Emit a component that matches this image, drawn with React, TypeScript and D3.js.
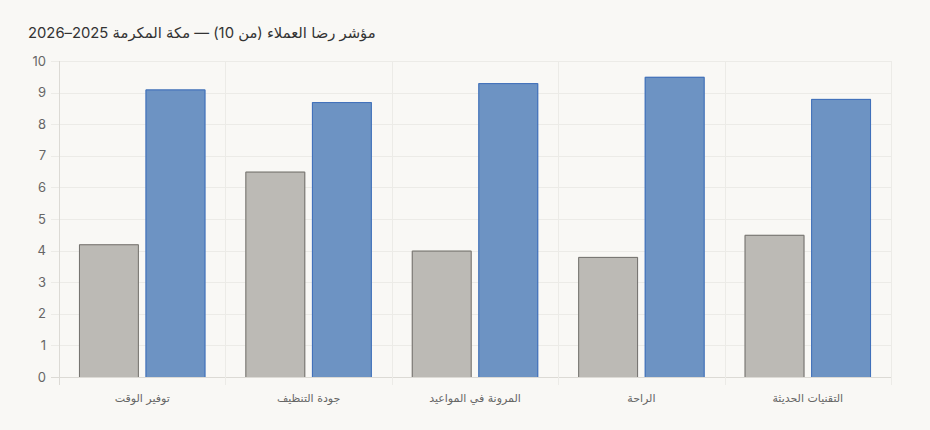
import React, { useEffect, useRef } from "react";
import * as d3 from "d3";

const categories = [
  "توفير الوقت",
  "جودة التنظيف",
  "المرونة في المواعيد",
  "الراحة",
  "التقنيات الحديثة",
];
const seriesBefore = [4.2, 6.5, 4.0, 3.8, 4.5];
const seriesAfter = [9.1, 8.7, 9.3, 9.5, 8.8];
const yTicks = [0, 1, 2, 3, 4, 5, 6, 7, 8, 9, 10];
const title = "مؤشر رضا العملاء (من 10) — مكة المكرمة 2025–2026";

const W = 930;
const H = 430;
const margin = { top: 61, right: 39, bottom: 53, left: 59 };
const font = "Inter, 'Noto Sans', 'DejaVu Sans', sans-serif";
const labelFont = "'DejaVu Sans', sans-serif";

const App: React.FC = () => {
  const svgRef = useRef<SVGSVGElement>(null);

  useEffect(() => {
    if (!svgRef.current) return;
    const svg = d3.select(svgRef.current);
    svg.selectAll("*").remove();

    const x0 = margin.left;
    const x1 = W - margin.right;
    const y0 = H - margin.bottom;
    const y1 = margin.top;

    const x = d3.scaleBand<string>().domain(categories).range([x0, x1]).padding(0);
    const bw = x.bandwidth();
    const inner = d3
      .scaleBand<string>()
      .domain(["before", "after"])
      .range([bw * 0.1, bw * 0.9])
      .paddingInner(0.1)
      .paddingOuter(0.05);
    const y = d3.scaleLinear().domain([0, 10]).range([y0, y1]);

    svg
      .append("rect")
      .attr("width", W)
      .attr("height", H)
      .attr("fill", "#f9f8f5");

    // title
    svg
      .append("text")
      .attr("x", 28)
      .attr("y", 38)
      .attr("fill", "#333")
      .attr("font-size", 14.8)
      .attr("font-family", font)
      .text(title);

    const grid = svg.append("g");

    // horizontal grid + tick marks
    yTicks.forEach((t) => {
      grid
        .append("line")
        .attr("x1", x0 - 8)
        .attr("x2", x1)
        .attr("y1", Math.round(y(t)) + 0.5)
        .attr("y2", Math.round(y(t)) + 0.5)
        .attr("stroke", t === 0 ? "#dcdad5" : "#ecebe7")
        .attr("stroke-width", 1);
      grid
        .append("text")
        .attr("x", x0 - 13)
        .attr("y", y(t))
        .attr("dy", "0.35em")
        .attr("text-anchor", "end")
        .attr("fill", "#666")
        .attr("font-size", 13)
        .attr("font-family", font)
        .text(t);
    });

    // vertical grid at category edges
    const edges = [...categories.map((c) => x(c) as number), x1];
    edges.forEach((e, i) => {
      grid
        .append("line")
        .attr("x1", Math.round(e) + 0.5)
        .attr("x2", Math.round(e) + 0.5)
        .attr("y1", y1)
        .attr("y2", y0 + 8)
        .attr("stroke", i === 0 ? "#dcdad5" : "#ecebe7")
        .attr("stroke-width", 1);
    });

    // bars
    const drawSeries = (
      key: string,
      values: number[],
      fill: string,
      stroke: string
    ) => {
      const g = svg.append("g");
      categories.forEach((c, i) => {
        const bx = (x(c) as number) + (inner(key) as number);
        const by = y(values[i]);
        const bh = y0 - by;
        const w = inner.bandwidth();
        g.append("rect")
          .attr("x", bx)
          .attr("y", by)
          .attr("width", w)
          .attr("height", bh)
          .attr("fill", fill);
        // border on top, left, right (no bottom)
        g.append("path")
          .attr(
            "d",
            `M${bx + 0.5},${y0} V${by + 0.5} H${bx + w - 0.5} V${y0}`
          )
          .attr("fill", "none")
          .attr("stroke", stroke)
          .attr("stroke-width", 1);
      });
    };
    drawSeries("before", seriesBefore, "#bcbab5", "#74726e");
    drawSeries("after", seriesAfter, "#6d93c3", "#3f6fba");

    // x labels
    categories.forEach((c) => {
      svg
        .append("text")
        .attr("x", (x(c) as number) + bw / 2)
        .attr("y", y0 + 21)
        .attr("dy", "0.35em")
        .attr("text-anchor", "middle")
        .attr("fill", "#666")
        .attr("font-size", 11)
        .attr("font-family", labelFont)
        .text(c);
    });
  }, []);

  return (
    <div style={{ position: "fixed", left: 0, top: 0, width: W, height: H }}>
      <svg ref={svgRef} width={W} height={H} style={{ display: "block" }} />
    </div>
  );
};

export default App;
